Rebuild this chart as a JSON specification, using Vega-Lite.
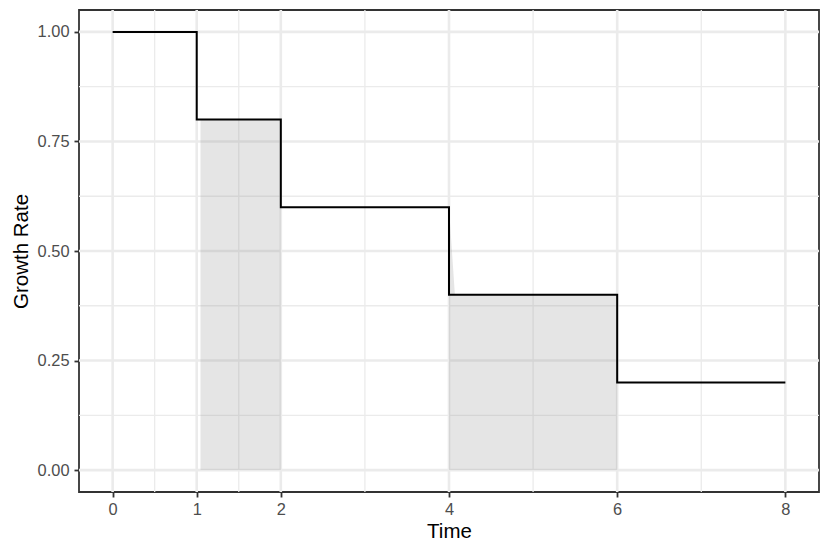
{
  "$schema": "https://vega.github.io/schema/vega-lite/v6.json",
  "width": 740,
  "height": 482,
  "autosize": {"type": "none"},
  "padding": {"left": 79, "top": 10, "right": 11, "bottom": 62},
  "background": "white",
  "config": {
    "view": {"stroke": "#333333", "strokeWidth": 1.8},
    "axis": {
      "grid": false,
      "domain": false,
      "tickColor": "#333333",
      "tickWidth": 1.8,
      "tickSize": 5,
      "labelColor": "#4d4d4d",
      "labelFont": "Liberation Sans",
      "labelFontSize": 16.4,
      "titleFont": "Liberation Sans",
      "titleFontSize": 20.5,
      "titleFontWeight": "normal",
      "titleColor": "black"
    }
  },
  "datasets": {
    "gxMajor": [{"x": 0}, {"x": 1}, {"x": 2}, {"x": 4}, {"x": 6}, {"x": 8}],
    "gxMinor": [{"x": 0.5}, {"x": 1.5}, {"x": 3}, {"x": 5}, {"x": 7}],
    "gyMajor": [{"y": 0}, {"y": 0.25}, {"y": 0.5}, {"y": 0.75}, {"y": 1}],
    "gyMinor": [{"y": 0.125}, {"y": 0.375}, {"y": 0.625}, {"y": 0.875}],
    "shade": [
      {"x": 1.045, "y": 0.8, "g": "a"},
      {"x": 2, "y": 0.8, "g": "a"},
      {"x": 4, "y": 0.6, "g": "b"},
      {"x": 4.07, "y": 0.4, "g": "b"},
      {"x": 6, "y": 0.4, "g": "b"}
    ],
    "steps": [
      {"x": 0, "y": 1},
      {"x": 1, "y": 0.8},
      {"x": 2, "y": 0.6},
      {"x": 4, "y": 0.4},
      {"x": 6, "y": 0.2},
      {"x": 8, "y": 0.2}
    ]
  },
  "layer": [
    {
      "data": {"name": "gxMinor"},
      "mark": {"type": "rule", "color": "#ebebeb", "strokeWidth": 1.3},
      "encoding": {
        "x": {"field": "x", "type": "quantitative", "scale": {"domain": [-0.4, 8.4], "nice": false, "zero": false},
              "axis": {"values": [0, 1, 2, 4, 6, 8], "format": "d", "title": "Time", "labelPadding": 4.5, "titlePadding": 4}}
      }
    },
    {
      "data": {"name": "gyMinor"},
      "mark": {"type": "rule", "color": "#ebebeb", "strokeWidth": 1.3},
      "encoding": {
        "y": {"field": "y", "type": "quantitative", "scale": {"domain": [-0.05, 1.05], "nice": false, "zero": false},
              "axis": {"values": [0, 0.25, 0.5, 0.75, 1], "format": ".2f", "title": "Growth Rate", "labelPadding": 5, "titlePadding": 6}}
      }
    },
    {
      "data": {"name": "gxMajor"},
      "mark": {"type": "rule", "color": "#ebebeb", "strokeWidth": 2.6},
      "encoding": {
        "x": {"field": "x", "type": "quantitative", "scale": {"domain": [-0.4, 8.4], "nice": false, "zero": false},
              "axis": {"values": [0, 1, 2, 4, 6, 8], "format": "d", "title": "Time", "labelPadding": 4.5, "titlePadding": 4}}
      }
    },
    {
      "data": {"name": "gyMajor"},
      "mark": {"type": "rule", "color": "#ebebeb", "strokeWidth": 2.6},
      "encoding": {
        "y": {"field": "y", "type": "quantitative", "scale": {"domain": [-0.05, 1.05], "nice": false, "zero": false},
              "axis": {"values": [0, 0.25, 0.5, 0.75, 1], "format": ".2f", "title": "Growth Rate", "labelPadding": 5, "titlePadding": 6}}
      }
    },
    {
      "data": {"name": "shade"},
      "mark": {"type": "area", "color": "#7f7f7f", "fillOpacity": 0.2, "interpolate": "linear"},
      "encoding": {
        "x": {"field": "x", "type": "quantitative", "scale": {"domain": [-0.4, 8.4], "nice": false, "zero": false},
              "axis": {"values": [0, 1, 2, 4, 6, 8], "format": "d", "title": "Time", "labelPadding": 4.5, "titlePadding": 4}},
        "y": {"field": "y", "type": "quantitative", "scale": {"domain": [-0.05, 1.05], "nice": false, "zero": false},
              "axis": {"values": [0, 0.25, 0.5, 0.75, 1], "format": ".2f", "title": "Growth Rate", "labelPadding": 5, "titlePadding": 6}},
        "y2": {"datum": 0},
        "detail": {"field": "g", "type": "nominal"}
      }
    },
    {
      "data": {"name": "steps"},
      "mark": {"type": "line", "color": "black", "strokeWidth": 2, "interpolate": "step-after"},
      "encoding": {
        "x": {"field": "x", "type": "quantitative", "scale": {"domain": [-0.4, 8.4], "nice": false, "zero": false},
              "axis": {"values": [0, 1, 2, 4, 6, 8], "format": "d", "title": "Time", "labelPadding": 4.5, "titlePadding": 4}},
        "y": {"field": "y", "type": "quantitative", "scale": {"domain": [-0.05, 1.05], "nice": false, "zero": false},
              "axis": {"values": [0, 0.25, 0.5, 0.75, 1], "format": ".2f", "title": "Growth Rate", "labelPadding": 5, "titlePadding": 6}}
      }
    }
  ]
}
